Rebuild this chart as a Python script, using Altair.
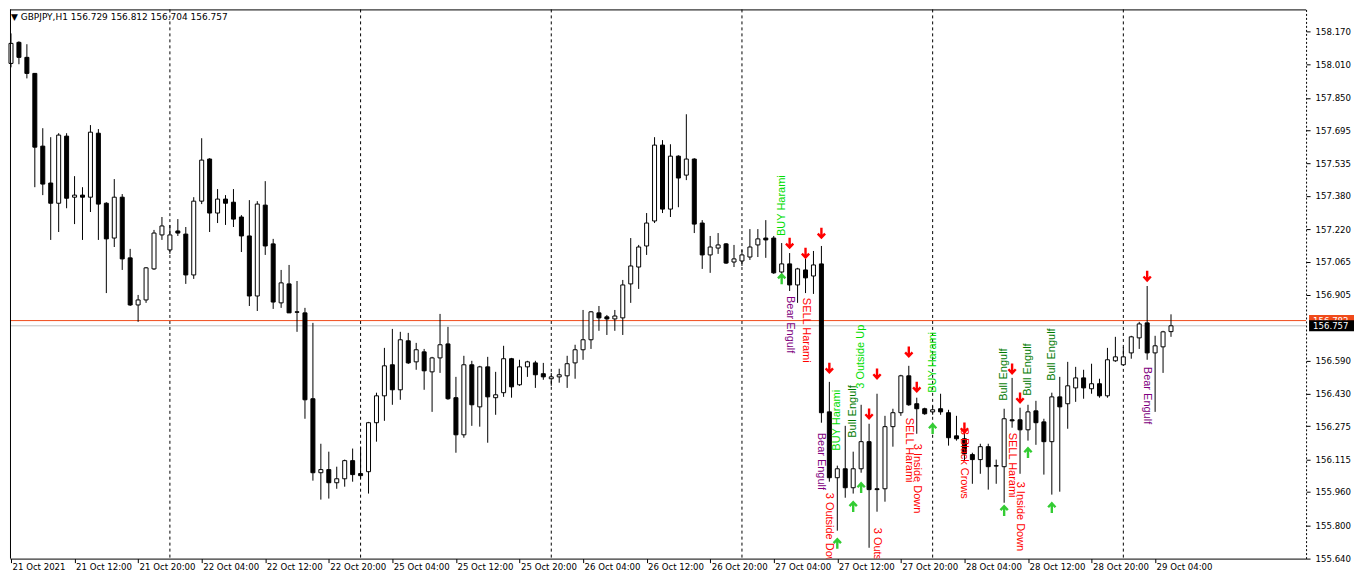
import altair as alt
import pandas as pd
import numpy as np

# ---------------- data (GBPJPY H1) ----------------
opens = [158.016, 158.117, 158.045, 157.968, 157.619, 157.442, 157.345, 157.667, 157.374, 157.384,
         157.374, 157.681, 157.345, 157.178, 157.374, 157.083, 156.857, 156.881, 157.030, 157.193,
         157.121, 157.212, 157.197, 157.001, 157.355, 157.557, 157.298, 157.365, 157.350, 157.279,
         157.188, 156.900, 157.336, 157.150, 156.867, 156.958, 156.824, 156.819, 156.407, 156.052,
         156.067, 156.004, 156.023, 156.110, 156.048, 156.057, 156.292, 156.421, 156.570, 156.450,
         156.685, 156.584, 156.632, 156.536, 156.603, 156.670, 156.412, 156.234, 156.570, 156.368,
         156.560, 156.412, 156.436, 156.599, 156.474, 156.560, 156.579, 156.527, 156.503, 156.512,
         156.517, 156.579, 156.642, 156.690, 156.819, 156.800, 156.790, 156.795, 156.958, 157.039,
         157.140, 157.260, 157.624, 157.317, 157.571, 157.480, 157.557, 157.250, 157.097, 157.130,
         157.150, 157.063, 157.068, 157.087, 157.145, 157.178, 157.178, 157.015, 157.054, 156.953,
         157.025, 156.996, 157.054, 156.344, 156.028, 156.071, 155.980, 156.071, 156.201, 155.975,
         155.975, 156.273, 156.340, 156.517, 156.383, 156.359, 156.344, 156.359, 156.340, 156.229,
         156.215, 156.139, 156.115, 156.177, 156.086, 156.081, 156.306, 156.306, 156.258, 156.349,
         156.296, 156.201, 156.416, 156.383, 156.459, 156.507, 156.455, 156.479, 156.421, 156.589,
         156.570, 156.627, 156.699, 156.771, 156.627, 156.656, 156.729]
highs = [158.160, 158.122, 158.108, 157.970, 157.705, 157.662, 157.681, 157.681, 157.475, 157.422,
         157.720, 157.701, 157.350, 157.461, 157.389, 157.126, 156.905, 157.039, 157.217, 157.279,
         157.241, 157.269, 157.231, 157.374, 157.657, 157.561, 157.413, 157.384, 157.413, 157.288,
         157.360, 157.355, 157.451, 157.174, 157.025, 157.049, 156.972, 156.843, 156.771, 156.191,
         156.153, 156.081, 156.115, 156.168, 156.177, 156.296, 156.436, 156.651, 156.742, 156.728,
         156.723, 156.675, 156.646, 156.608, 156.814, 156.752, 156.512, 156.613, 156.589, 156.565,
         156.608, 156.536, 156.661, 156.603, 156.594, 156.589, 156.589, 156.579, 156.531, 156.551,
         156.613, 156.666, 156.833, 156.828, 156.852, 156.809, 156.833, 156.977, 157.178, 157.145,
         157.298, 157.662, 157.648, 157.628, 157.575, 157.772, 157.561, 157.264, 157.188, 157.202,
         157.154, 157.145, 157.121, 157.221, 157.221, 157.264, 157.188, 157.154, 157.106, 157.035,
         157.078, 157.116, 157.140, 156.488, 156.086, 156.277, 156.153, 156.378, 156.287, 156.431,
         156.325, 156.359, 156.522, 156.565, 156.412, 156.364, 156.373, 156.431, 156.354, 156.325,
         156.253, 156.148, 156.191, 156.191, 156.115, 156.359, 156.507, 156.364, 156.378, 156.397,
         156.311, 156.436, 156.512, 156.584, 156.560, 156.546, 156.575, 156.503, 156.651, 156.704,
         156.656, 156.709, 156.776, 156.948, 156.709, 156.733, 156.812]
lows = [157.997, 158.012, 157.944, 157.422, 157.384, 157.169, 157.207, 157.321, 157.245, 157.169,
        157.303, 157.169, 156.914, 157.135, 157.025, 156.852, 156.776, 156.867, 157.025, 157.169,
        157.102, 157.188, 156.958, 156.982, 157.341, 157.207, 157.250, 157.241, 157.231, 157.111,
        156.852, 156.828, 157.097, 156.838, 156.843, 156.819, 156.728, 156.311, 156.014, 155.923,
        155.928, 155.975, 155.985, 156.009, 156.023, 155.952, 156.201, 156.301, 156.378, 156.402,
        156.574, 156.546, 156.450, 156.344, 156.531, 156.402, 156.148, 156.220, 156.277, 156.273,
        156.196, 156.330, 156.416, 156.412, 156.469, 156.512, 156.459, 156.498, 156.469, 156.484,
        156.459, 156.503, 156.594, 156.646, 156.733, 156.713, 156.733, 156.713, 156.867, 156.934,
        157.097, 157.250, 157.298, 157.279, 157.326, 157.456, 157.202, 157.030, 157.011, 157.102,
        157.054, 157.039, 157.044, 157.073, 157.087, 157.083, 157.006, 156.987, 156.924, 156.867,
        156.914, 156.910, 156.292, 156.009, 155.774, 155.932, 155.952, 156.052, 155.692, 155.865,
        155.913, 156.177, 156.325, 156.373, 156.239, 156.330, 156.330, 156.330, 156.182, 156.206,
        156.110, 155.999, 156.047, 155.971, 155.999, 155.908, 156.268, 156.047, 156.206, 156.186,
        156.043, 155.947, 155.961, 156.263, 156.392, 156.407, 156.431, 156.412, 156.412, 156.584,
        156.565, 156.599, 156.646, 156.594, 156.344, 156.531, 156.704]
closes = [158.112, 158.045, 157.968, 157.614, 157.437, 157.345, 157.672, 157.369, 157.384, 157.374,
          157.686, 157.341, 157.174, 157.374, 157.078, 156.857, 156.881, 157.035, 157.202, 157.236,
          157.193, 157.202, 157.001, 157.355, 157.552, 157.298, 157.365, 157.345, 157.269, 157.188,
          156.900, 157.341, 157.140, 156.871, 156.963, 156.819, 156.822, 156.402, 156.052, 156.067,
          156.004, 156.023, 156.110, 156.043, 156.038, 156.292, 156.421, 156.565, 156.450, 156.690,
          156.579, 156.642, 156.541, 156.603, 156.666, 156.407, 156.234, 156.570, 156.378, 156.560,
          156.416, 156.426, 156.599, 156.464, 156.560, 156.584, 156.522, 156.512, 156.512, 156.522,
          156.575, 156.642, 156.690, 156.824, 156.795, 156.790, 156.804, 156.953, 157.044, 157.135,
          157.250, 157.624, 157.317, 157.571, 157.466, 157.557, 157.245, 157.097, 157.135, 157.145,
          157.058, 157.078, 157.097, 157.135, 157.174, 157.169, 157.011, 157.054, 156.953, 157.030,
          156.987, 157.049, 156.340, 156.028, 156.071, 155.980, 156.071, 156.201, 155.971, 155.971,
          156.273, 156.340, 156.517, 156.378, 156.359, 156.335, 156.354, 156.344, 156.220, 156.215,
          156.143, 156.115, 156.177, 156.081, 156.084, 156.311, 156.301, 156.258, 156.344, 156.292,
          156.201, 156.416, 156.368, 156.469, 156.507, 156.459, 156.479, 156.421, 156.594, 156.608,
          156.608, 156.704, 156.766, 156.627, 156.661, 156.728, 156.757]

ask_price = 156.782

x_labels = ["21 Oct 2021", "21 Oct 12:00", "21 Oct 20:00", "22 Oct 04:00", "22 Oct 12:00",
            "22 Oct 20:00", "25 Oct 04:00", "25 Oct 12:00", "25 Oct 20:00", "26 Oct 04:00",
            "26 Oct 12:00", "26 Oct 20:00", "27 Oct 04:00", "27 Oct 12:00", "27 Oct 20:00",
            "28 Oct 04:00", "28 Oct 12:00", "28 Oct 20:00", "29 Oct 04:00"]
y_ticks = [158.170, 158.010, 157.850, 157.695, 157.535, 157.380, 157.220, 157.065, 156.905,
           156.590, 156.430, 156.275, 156.115, 155.960, 155.800, 155.640]
day_starts = [20, 44, 68, 92, 116, 140]

# pattern signals
bull_bars = [97, 104, 106, 107, 116, 125, 128, 131]
bull_names = ["BUY Harami", "BUY Harami", "Bull Engulf", "3 Outside Up", "BUY Harami",
              "Bull Engulf", "Bull Engulf", "Bull Engulf"]
bull_text_price = [157.188, 156.158, 156.220, 156.455, 156.436, 156.397, 156.421, 156.493]
bull_arrow_price = [156.982, 155.712, 155.889, 155.980, 156.263, 155.870, 156.148, 155.884]

bear_bars = [98, 100, 102, 103, 109, 113, 114, 120, 126, 127, 143]
bear_names = ["Bear Engulf", "SELL Harami", "Bear Engulf", "3 Outside Down", "3 Outside Down",
              "SELL Harami", "3 Inside Down", "3 Black Crows", "SELL Harami", "3 Inside Down",
              "Bear Engulf"]
bear_text_price = [156.900, 156.891, 156.244, 155.956, 155.788, 156.316, 156.191, 156.263,
                   156.244, 156.009, 156.560]
bear_arrow_bars = [98, 100, 102, 103, 108, 109, 113, 114, 120, 126, 127, 143]
bear_arrow_price = [157.154, 157.106, 157.202, 156.555, 156.335, 156.527, 156.632, 156.464,
                    156.268, 156.551, 156.412, 156.996]

# ---------------- tables ----------------
df = pd.DataFrame({"i": range(len(opens)), "o": opens, "h": highs, "l": lows, "c": closes})
df["dir"] = np.where(df["c"] > df["o"], "bull", "bear")

bull_df = pd.DataFrame({"i": bull_bars, "name": bull_names, "p": bull_text_price})
bull_arr = pd.DataFrame({"i": bull_bars, "p": bull_arrow_price})
bear_df = pd.DataFrame({"i": bear_bars, "name": bear_names, "p": bear_text_price})
bear_arr = pd.DataFrame({"i": bear_arrow_bars, "p": bear_arrow_price})
sep_df = pd.DataFrame({"i": day_starts})
price_df = pd.DataFrame({"p": [ask_price, closes[-1]], "k": ["ask", "bid"],
                         "label": [f"{ask_price:.3f}", f"{closes[-1]:.3f}"]})
title_text = f"\u25BC GBPJPY,H1  {opens[-1]:.3f} {highs[-1]:.3f} {lows[-1]:.3f} {closes[-1]:.3f}"
title_df = pd.DataFrame({"t": [title_text]})

# ---------------- styling ----------------
W, H = 1298, 550
UI_FONT = "DejaVu Sans"
UI_SIZE = 8.6
SIG_FONT = "Liberation Sans"
ASK_COLOR = "#f04a1a"

XS = alt.Scale(domain=[-0.125, 163.0], nice=False, zero=False, padding=0)
YS = alt.Scale(domain=[155.640, 158.275], nice=False, zero=False, padding=0)

label_expr = "[" + ",".join("'" + s + "'" for s in x_labels) + "][round(datum.value / 8)]"
x_axis = alt.Axis(values=list(range(0, 8 * len(x_labels), 8)), labelExpr=label_expr,
                  labelAlign="left", labelFlush=False, labelOverlap=False, labelOffset=1,
                  tickSize=4, tickColor="black", domainColor="black", labelPadding=0,
                  labelFont=UI_FONT, labelFontSize=UI_SIZE, labelColor="black",
                  grid=False, title=None)
y_axis = alt.Axis(orient="right", values=y_ticks, format=".3f", tickSize=4, labelPadding=5,
                  tickColor="black", domainColor="black", domainDash=[2, 2],
                  labelFont=UI_FONT, labelFontSize=UI_SIZE, labelColor="black",
                  labelOverlap=False, labelFlush=False, grid=False, title=None)


def X():
    return alt.X("i:Q", scale=XS, axis=x_axis)


def Y(field):
    return alt.Y(f"{field}:Q", scale=YS, axis=y_axis)


pattern_scale = alt.Scale(
    domain=["BUY Harami", "3 Outside Up", "Bull Engulf", "Bear Engulf", "SELL Harami",
            "3 Outside Down", "3 Inside Down", "3 Black Crows"],
    range=["#00dd00", "#00dd00", "#007a00", "#800080", "#ff0000", "#ff0000", "#ff0000", "#ff0000"])

DOWN = "M0,-1L0,0.8M-0.7,0.1L0,0.85L0.7,0.1"
UP = "M0,1L0,-0.8M-0.7,-0.1L0,-0.85L0.7,-0.1"

sep = alt.Chart(sep_df).mark_rule(color="black", strokeDash=[3, 3], strokeWidth=1).encode(x=X())

plines = alt.Chart(price_df).mark_rule(strokeWidth=1).encode(
    y=Y("p"),
    color=alt.Color("k:N", scale=alt.Scale(domain=["ask", "bid"], range=[ASK_COLOR, "#c0c0c0"]),
                    legend=None))

wicks = alt.Chart(df).mark_rule(color="black", strokeWidth=1).encode(
    x=X(), y=Y("l"), y2="h:Q")

bodies = alt.Chart(df).mark_bar(width=4, stroke="black", strokeWidth=1, orient="vertical").encode(
    x=X(), y=Y("o"), y2="c:Q",
    fill=alt.Fill("dir:N", scale=alt.Scale(domain=["bull", "bear"], range=["white", "black"]),
                  legend=None))

bull_txt = alt.Chart(bull_df).mark_text(angle=270, align="left", baseline="middle",
                                        font=SIG_FONT, fontSize=11, clip=True).encode(
    x=X(), y=Y("p"), text="name:N", color=alt.Color("name:N", scale=pattern_scale, legend=None))

bear_txt = alt.Chart(bear_df).mark_text(angle=90, align="left", baseline="middle",
                                        font=SIG_FONT, fontSize=11, clip=True).encode(
    x=X(), y=Y("p"), text="name:N", color=alt.Color("name:N", scale=pattern_scale, legend=None))

up_arrows = alt.Chart(bull_arr).mark_point(shape=UP, size=110, filled=False, strokeWidth=2.4,
                                           color="#33cc33", opacity=1, clip=True).encode(
    x=X(), y=Y("p"))
down_arrows = alt.Chart(bear_arr).mark_point(shape=DOWN, size=110, filled=False, strokeWidth=2.4,
                                             color="#ff0000", opacity=1, clip=True).encode(
    x=X(), y=Y("p"))

title = alt.Chart(title_df).mark_text(align="left", baseline="top", font=UI_FONT,
                                      fontSize=9, color="black").encode(
    x=alt.value(1), y=alt.value(4), text="t:N")

left_border = alt.Chart(title_df).mark_rule(color="black", strokeWidth=1).encode(
    x=alt.value(0.5), y=alt.value(0), y2=alt.value(H))
top_border = alt.Chart(title_df).mark_rule(color="black", strokeWidth=1).encode(
    x=alt.value(0), x2=alt.value(W), y=alt.value(0.5))


def price_box(kind, color):
    base = alt.Chart(price_df).transform_filter(alt.datum.k == kind)
    box = base.mark_rect(color=color, yOffset=-5.5, y2Offset=5.5).encode(
        x=alt.value(W + 3), x2=alt.value(W + 48), y=Y("p"), y2="p:Q")
    txt = base.mark_text(align="left", baseline="middle", color="white", font=UI_FONT,
                         fontSize=UI_SIZE).encode(
        x=alt.value(W + 7), y=Y("p"), text="label:N")
    return box + txt


chart = alt.layer(
    sep, plines, wicks, bodies, bull_txt, bear_txt, up_arrows, down_arrows, title,
    left_border, top_border,
    price_box("ask", ASK_COLOR), price_box("bid", "black")
).resolve_scale(
    color="independent", fill="independent"
).properties(
    width=W, height=H, padding=0, background="white"
).configure_view(stroke=None)

chart.save("out.html", embed_options={"renderer": "svg", "actions": False})
